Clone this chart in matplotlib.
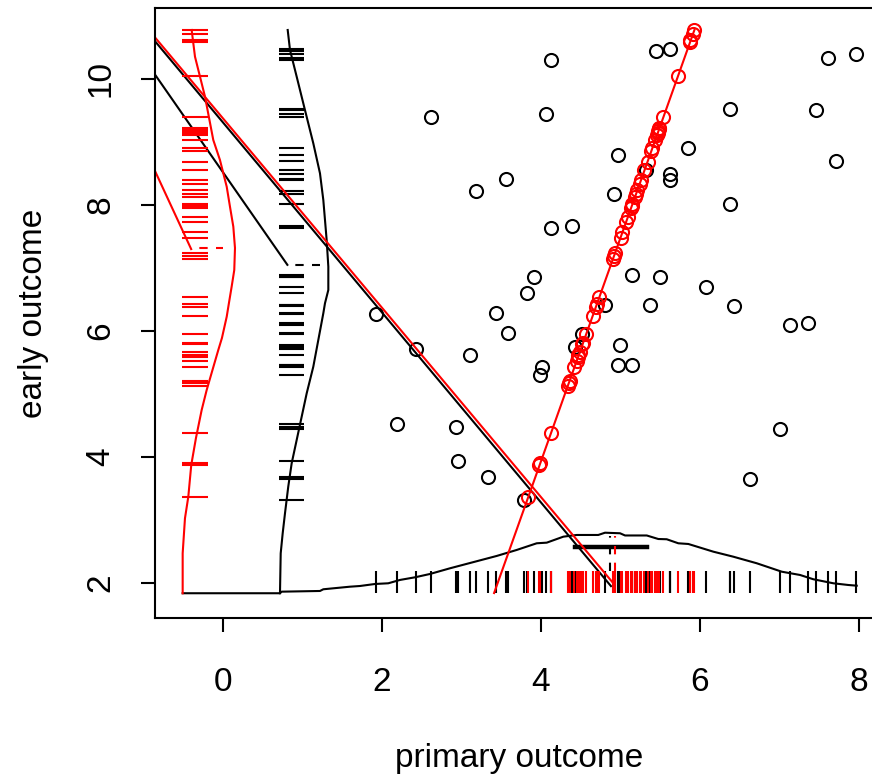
import matplotlib
matplotlib.use("Agg")
import matplotlib.pyplot as plt
from matplotlib import font_manager

names = {f.name for f in font_manager.fontManager.ttflist}
fam = 'Liberation Sans Narrow' if 'Liberation Sans Narrow' in names else 'Liberation Sans'
plt.rcParams['font.family'] = [fam, 'DejaVu Sans']

# ---------------- data ----------------
black_x = [1.92, 2.19, 2.43, 2.62, 2.93, 2.95, 3.11, 3.18, 3.33, 3.43,
           3.56, 3.58, 3.79, 3.83, 3.91, 3.99, 4.01, 4.06, 4.13, 4.13,
           4.39, 4.43, 4.51, 4.81, 4.92, 4.97, 4.99, 4.97, 5.15, 5.14,
           5.32, 5.37, 5.45, 5.50, 5.62, 5.62, 5.62, 5.85, 6.08, 6.38,
           6.38, 6.43, 6.63, 7.01, 7.13, 7.36, 7.46, 7.61, 7.71, 7.96]
black_y = [6.27, 4.53, 5.71, 9.40, 4.47, 3.93, 5.62, 8.23, 3.68, 6.29,
           8.41, 5.97, 3.32, 6.61, 6.86, 5.30, 5.43, 9.44, 10.30, 7.63,
           7.66, 5.75, 5.96, 6.41, 8.17, 8.80, 5.78, 5.46, 5.46, 6.89,
           8.56, 6.41, 10.45, 6.86, 10.47, 8.49, 8.40, 8.90, 6.70, 9.53,
           8.02, 6.39, 3.65, 4.44, 6.10, 6.13, 9.51, 10.33, 8.70, 10.39]

red_y = [10.78, 10.72, 10.62, 10.58, 10.05, 9.40, 9.23, 9.20, 9.17, 9.15,
         9.11, 9.03, 8.90, 8.85, 8.69, 8.56, 8.39, 8.33, 8.24, 8.17,
         8.13, 8.02, 7.99, 7.95, 7.81, 7.73, 7.57, 7.47, 7.24, 7.19,
         7.15, 6.54, 6.43, 6.38, 6.23, 5.95, 5.81, 5.79, 5.66, 5.62,
         5.58, 5.53, 5.43, 5.21, 5.17, 5.13, 4.38, 3.91, 3.87, 3.36]
red_x = [5.93, 5.91, 5.88, 5.87, 5.72, 5.54, 5.49, 5.48, 5.47, 5.47,
         5.46, 5.44, 5.40, 5.38, 5.34, 5.30, 5.26, 5.24, 5.21, 5.19,
         5.18, 5.15, 5.14, 5.13, 5.09, 5.07, 5.02, 5.00, 4.93, 4.92,
         4.91, 4.73, 4.70, 4.69, 4.65, 4.57, 4.53, 4.52, 4.49, 4.47,
         4.46, 4.45, 4.42, 4.36, 4.35, 4.34, 4.13, 3.99, 3.98, 3.84]

# density curve of black x (bottom)
bxd_x = [-0.507, 0.717, 0.738, 1.220, 1.262, 1.597, 1.723, 1.912, 2.079, 2.226,
         2.415, 2.604, 2.855, 3.170, 3.443, 3.694, 3.946, 4.072, 4.281, 4.449,
         4.720, 4.805, 4.994, 5.057, 5.330, 5.475, 5.581, 5.727, 5.853, 6.167,
         6.419, 6.713, 7.028, 7.258, 7.425, 7.677, 7.865, 7.971]
bxd_y = [1.837, 1.837, 1.862, 1.873, 1.900, 1.941, 1.952, 1.984, 1.995, 2.048,
         2.090, 2.143, 2.233, 2.338, 2.429, 2.524, 2.630, 2.640, 2.735, 2.762,
         2.762, 2.798, 2.789, 2.754, 2.754, 2.698, 2.694, 2.630, 2.619, 2.497,
         2.417, 2.313, 2.179, 2.127, 2.059, 1.995, 1.968, 1.957]

# density curve of black y (vertical)
byd_x = [0.717, 0.726, 0.751, 0.780, 0.821, 0.864, 0.927, 0.990, 1.053, 1.136,
         1.199, 1.262, 1.283, 1.325, 1.325, 1.304, 1.262, 1.220, 1.136, 1.031,
         0.927, 0.843, 0.814]
byd_y = [1.837, 2.471, 2.789, 3.106, 3.529, 3.900, 4.270, 4.640, 5.011, 5.433,
         5.857, 6.281, 6.440, 6.651, 7.021, 7.444, 8.079, 8.503, 8.979, 9.508,
         10.037, 10.460, 10.778]

# density curve of red y (vertical)
ryd_x = [-0.507, -0.507, -0.478, -0.436, -0.399, -0.340, -0.268, -0.205, -0.132, -0.059,
         -0.013, 0.047, 0.075, 0.109, 0.142, 0.151, 0.130, 0.088, 0.047, -0.038,
         -0.122, -0.226, -0.289, -0.352, -0.394]
ryd_y = [1.837, 2.471, 3.027, 3.370, 3.873, 4.300, 4.746, 5.063, 5.381, 5.698,
         5.889, 6.227, 6.444, 6.703, 6.968, 7.317, 7.656, 7.973, 8.290, 8.714,
         9.032, 9.719, 10.037, 10.354, 10.778]

# fitted / summary lines
black_fit_x = [-0.855, 0.81]
black_fit_y = [10.07, 7.05]
red_fit_x = [-0.855, -0.40]
red_fit_y = [8.54, 7.30]
black_long_x = [-0.855, 4.88]
black_long_y = [10.60, 1.95]
red_long_x = [-0.855, 4.92]
red_long_y = [10.66, 1.98]
red_path_x = [3.41, 5.93]
red_path_y = [1.84, 10.78]

black_mean_x, red_mean_x = 4.87, 4.93
black_mean_y, red_mean_y = 7.05, 7.31
ci_x = [4.43, 5.33]
ci_level = 2.577

# ---------------- figure ----------------
W, H = 872, 775
fig = plt.figure(figsize=(W / 100, H / 100), dpi=100)
ax = fig.add_axes([155 / W, (H - 618) / H, 729 / W, 610 / H])
ax.set_xlim(-0.855, 8.314)
ax.set_ylim(1.444, 11.127)

LW = 1.5
# bottom rug base and top, left rug extents
rug_lo, rug_hi = 1.836, 2.19
red_rug = (-0.512, -0.193)
blk_rug = (0.704, 1.019)

# black elements
ax.vlines(black_x, rug_lo, rug_hi, color='black', lw=LW)
ax.hlines(black_y, blk_rug[0], blk_rug[1], color='black', lw=LW)
ax.plot(bxd_x, bxd_y, color='black', lw=LW)
ax.plot(byd_x, byd_y, color='black', lw=LW)
ax.plot(black_fit_x, black_fit_y, color='black', lw=LW)
ax.plot([black_fit_x[1], 1.22], [black_mean_y, black_mean_y], color='black', lw=LW,
        linestyle=(4, (4, 4)))
ax.plot(black_long_x, black_long_y, color='black', lw=LW)
ax.plot([black_mean_x, black_mean_x], [rug_hi, 2.74], color='black', lw=LW,
        linestyle=(0, (4, 4)))
ax.plot(ci_x, [ci_level, ci_level], color='black', lw=3.2)
ax.plot(black_x, black_y, linestyle='none', marker='o', ms=9.4, mfc='none',
        mec='black', mew=1.5)

# red elements
ax.vlines(red_x, rug_lo, rug_hi, color='red', lw=LW)
ax.hlines(red_y, red_rug[0], red_rug[1], color='red', lw=LW)
ax.plot(ryd_x, ryd_y, color='red', lw=LW)
ax.plot(red_fit_x, red_fit_y, color='red', lw=LW)
ax.plot([red_fit_x[1], 0.0], [red_mean_y, red_mean_y], color='red', lw=LW,
        linestyle=(4, (4, 4)))
ax.plot(red_long_x, red_long_y, color='red', lw=LW)
ax.plot([red_mean_x, red_mean_x], [rug_hi, 2.74], color='red', lw=LW,
        linestyle=(0, (4, 4)))
ax.plot(red_path_x, red_path_y, color='red', lw=LW)
ax.plot(red_x, red_y, linestyle='none', marker='o', ms=9.4, mfc='none',
        mec='red', mew=1.5)

# axes styling
for s in ax.spines.values():
    s.set_linewidth(1.5)
ax.set_xticks([0, 2, 4, 6, 8])
ax.set_yticks([2, 4, 6, 8, 10])
ax.tick_params(axis='both', direction='out', length=10, width=1.5, labelsize=24)
ax.tick_params(axis='x', pad=25)
ax.tick_params(axis='y', pad=18, labelrotation=90)
for lab in ax.get_yticklabels():
    lab.set_va('center')
ax.set_xlabel('primary outcome', fontsize=24, labelpad=33)
ax.set_ylabel('early outcome', fontsize=24, labelpad=26)

fig.savefig('out.png', dpi=100)
